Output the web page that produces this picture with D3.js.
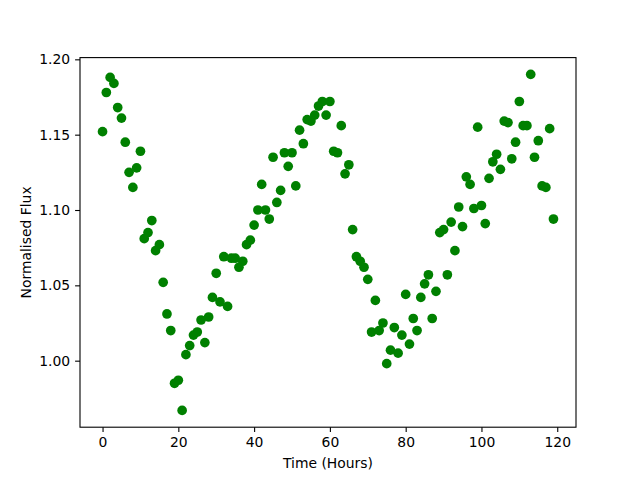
<!DOCTYPE html>
<html>
<head>
<meta charset="utf-8">
<script src="https://cdn.jsdelivr.net/npm/d3@7"></script>
<style>
  body { margin: 0; background: #fff; }
  svg { display: block; font-family: "DejaVu Sans", sans-serif; }
</style>
</head>
<body>
<svg id="chart" width="640" height="480"></svg>
<script>
// hourly normalised flux readings (t = 0..119)
const hours = d3.range(0, 120);
const flux = [
  1.152, 1.178, 1.188, 1.184, 1.168, 1.161, 1.145, 1.125, 1.115, 1.128,
  1.139, 1.081, 1.085, 1.093, 1.073, 1.077, 1.052, 1.031, 1.020, 0.985,
  0.987, 0.967, 1.004, 1.010, 1.017, 1.019, 1.027, 1.012, 1.029, 1.042,
  1.058, 1.039, 1.069, 1.036, 1.068, 1.068, 1.062, 1.066, 1.077, 1.080,
  1.090, 1.100, 1.117, 1.100, 1.094, 1.135, 1.105, 1.113, 1.138, 1.129,
  1.138, 1.116, 1.153, 1.144, 1.160, 1.159, 1.163, 1.169, 1.172, 1.163,
  1.172, 1.139, 1.138, 1.156, 1.124, 1.130, 1.087, 1.069, 1.066, 1.062,
  1.054, 1.019, 1.040, 1.020, 1.025, 0.998, 1.007, 1.022, 1.005, 1.017,
  1.044, 1.011, 1.028, 1.020, 1.042, 1.051, 1.057, 1.028, 1.046, 1.085,
  1.087, 1.057, 1.092, 1.073, 1.102, 1.089, 1.122, 1.117, 1.101, 1.155,
  1.103, 1.091, 1.121, 1.132, 1.137, 1.127, 1.159, 1.158, 1.134, 1.145,
  1.172, 1.156, 1.156, 1.190, 1.135, 1.146, 1.116, 1.115, 1.154, 1.094
];
const xTicks = [0, 20, 40, 60, 80, 100, 120];
const yTicks = [1.00, 1.05, 1.10, 1.15, 1.20];

const svg = d3.select('#chart');
const margin = { left: 80, right: 64, top: 57.6, bottom: 52.8 };
const W = 640, H = 480;

// matplotlib style 5% padding around the data
const xPad = (d3.max(hours) - d3.min(hours)) * 0.05;
const yExt = d3.extent(flux);
const yPad = (yExt[1] - yExt[0]) * 0.05;

const x = d3.scaleLinear()
  .domain([d3.min(hours) - xPad, d3.max(hours) + xPad])
  .range([margin.left, W - margin.right]);
const y = d3.scaleLinear()
  .domain([yExt[0] - yPad, yExt[1] + yPad])
  .range([H - margin.bottom, margin.top]);

const fontSize = '13.9px';

// points
svg.append('g')
  .selectAll('circle')
  .data(hours)
  .join('circle')
  .attr('cx', (d) => x(d))
  .attr('cy', (d, i) => y(flux[i]))
  .attr('r', 4.85)
  .attr('fill', '#008000');

// axes
const xAxis = svg.append('g')
  .attr('transform', `translate(0,${H - margin.bottom})`)
  .call(d3.axisBottom(x).tickValues(xTicks).tickSize(4.9).tickPadding(4.9).tickFormat(d3.format('d')));
const yAxis = svg.append('g')
  .attr('transform', `translate(${margin.left},0)`)
  .call(d3.axisLeft(y).tickValues(yTicks).tickSize(4.9).tickPadding(4.9).tickFormat(d3.format('.2f')));

[xAxis, yAxis].forEach((g) => {
  g.select('.domain').remove();
  g.selectAll('line').attr('stroke', '#000').attr('stroke-width', 1.1);
  g.selectAll('text').attr('font-size', fontSize).attr('fill', '#000')
    .attr('font-family', '"DejaVu Sans", sans-serif');
});

// frame
svg.append('rect')
  .attr('x', margin.left)
  .attr('y', margin.top)
  .attr('width', W - margin.left - margin.right)
  .attr('height', H - margin.top - margin.bottom)
  .attr('fill', 'none')
  .attr('stroke', '#000')
  .attr('stroke-width', 1.1);

// labels
svg.append('text')
  .attr('x', (margin.left + W - margin.right) / 2)
  .attr('y', 468)
  .attr('text-anchor', 'middle')
  .attr('font-size', fontSize)
  .text('Time (Hours)');
svg.append('text')
  .attr('transform', `translate(31,${(margin.top + H - margin.bottom) / 2}) rotate(-90)`)
  .attr('text-anchor', 'middle')
  .attr('font-size', fontSize)
  .text('Normalised Flux');
</script>
</body>
</html>
